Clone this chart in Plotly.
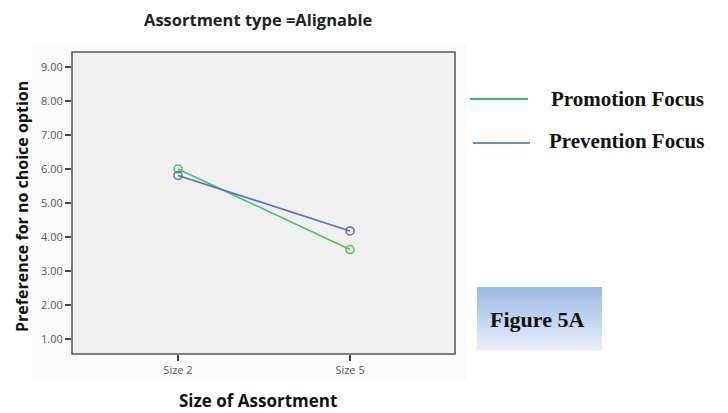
import plotly.graph_objects as go

categories = ["Size 2", "Size 5"]
promotion = [6.00, 3.63]
prevention = [5.81, 4.18]
y_ticks = [1, 2, 3, 4, 5, 6, 7, 8, 9]
y_tick_labels = ["1.00", "2.00", "3.00", "4.00", "5.00", "6.00", "7.00", "8.00", "9.00"]

W, H = 728, 413
def px(x): return x / W
def py(y): return 1 - y / H

fig = go.Figure()
fig.add_trace(go.Scatter(x=[0, 1], y=promotion, mode="lines+markers", name="Promotion Focus",
                         line=dict(color="#4cc45a", width=1.6),
                         marker=dict(symbol="circle-open", size=8, color="#4cc45a", line=dict(width=1.5))))
fig.add_trace(go.Scatter(x=[0, 1], y=prevention, mode="lines+markers", name="Prevention Focus",
                         line=dict(color="#5b6bc6", width=1.6),
                         marker=dict(symbol="circle-open", size=8, color="#5b6bc6", line=dict(width=1.5))))

shapes = []
shapes.append(dict(type="rect", xref="paper", yref="paper", x0=px(32), x1=px(467), y0=py(379), y1=py(45),
                   fillcolor="#fbfbfb", line=dict(width=0), layer="below"))
shapes.append(dict(type="rect", xref="paper", yref="paper", x0=px(72), x1=px(455), y0=py(354), y1=py(52),
                   fillcolor="#f0f0f0", line=dict(color="#555555", width=1.5), layer="below"))
top_c = (0x9c, 0xb8, 0xe6)
bot_c = (0xe8, 0xee, 0xf8)
y_top, y_bot = 287, 350
n = 32
for i in range(n):
    t = i / (n - 1)
    c = tuple(int(round(top_c[k] + (bot_c[k] - top_c[k]) * t)) for k in range(3))
    ya = y_top + (y_bot - y_top) * i / n
    yb = y_top + (y_bot - y_top) * (i + 1) / n
    shapes.append(dict(type="rect", xref="paper", yref="paper", x0=px(477), x1=px(602),
                       y0=py(yb + 0.5), y1=py(ya), fillcolor="rgb(%d,%d,%d)" % c,
                       line=dict(width=0), layer="below"))
shapes.append(dict(type="line", xref="paper", yref="paper", x0=px(470), x1=px(528), y0=py(99), y1=py(99),
                   line=dict(color="#33bb66", width=2)))
shapes.append(dict(type="line", xref="paper", yref="paper", x0=px(473), x1=px(530), y0=py(143), y1=py(143),
                   line=dict(color="#5a8fdc", width=2)))

def ann(text, x, y, size, family, xanchor="center", angle=0, color="#111111"):
    return dict(text=text, x=px(x), y=py(y), xref="paper", yref="paper", xanchor=xanchor, yanchor="middle",
                showarrow=False, textangle=angle, font=dict(family=family, size=size, color=color))

annotations = [
    ann("<b>Assortment type =Alignable</b>", 258, 20, 16.5, "Open Sans", color="#222222"),
    ann("<b>Preference for no choice option</b>", 22, 207, 16, "Open Sans", angle=-90),
    ann("<b>Size of Assortment</b>", 258, 400, 17, "Open Sans"),
    ann("<b>Promotion Focus</b>", 549, 99, 21, "Liberation Serif", xanchor="left"),
    ann("<b>Prevention Focus</b>", 547, 141, 21, "Liberation Serif", xanchor="left"),
    ann("<b>Figure 5A</b>", 537, 319, 22, "Liberation Serif"),
]

fig.update_layout(
    width=W, height=H, margin=dict(l=0, r=0, t=0, b=0),
    paper_bgcolor="white", plot_bgcolor="rgba(0,0,0,0)",
    showlegend=False, shapes=shapes, annotations=annotations,
    xaxis=dict(domain=[px(72), px(455)], range=[-0.616, 1.61], tickvals=[0, 1], ticktext=categories,
               ticks="outside", ticklen=6, tickwidth=1.5, tickcolor="#444444", showgrid=False, zeroline=False,
               tickfont=dict(family="Open Sans", size=11, color="#555555"), showline=False),
    yaxis=dict(domain=[py(354), py(52)], range=[0.56, 9.44], tickvals=y_ticks, ticktext=y_tick_labels,
               ticks="outside", ticklen=6, tickwidth=1.5, tickcolor="#444444", showgrid=False, zeroline=False,
               tickfont=dict(family="Open Sans", size=11, color="#555555"), showline=False),
)

fig.write_html("out.html", config={"displayModeBar": False},
               post_script="document.body.style.margin='0px';document.body.style.overflow='hidden';")
